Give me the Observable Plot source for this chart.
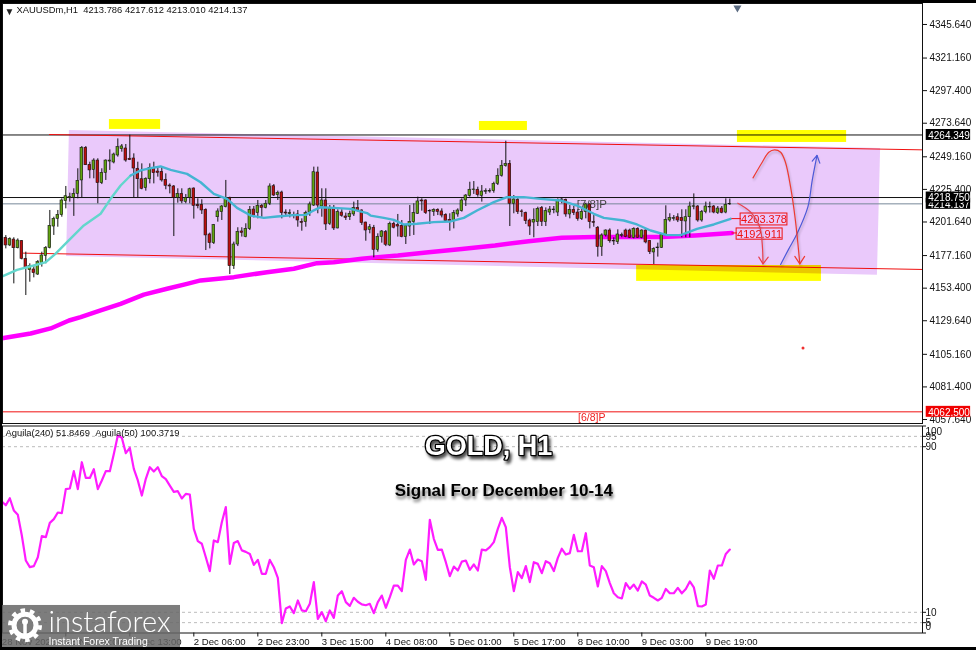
<!DOCTYPE html>
<html>
<head>
<meta charset="utf-8">
<script src="https://cdn.jsdelivr.net/npm/d3@7"></script>
<script src="https://cdn.jsdelivr.net/npm/@observablehq/plot@0.6"></script>
<style>
html,body{margin:0;padding:0;background:#fff;overflow:hidden}
#page{position:relative;width:976px;height:650px;overflow:hidden;background:#fff}
#page svg{position:absolute;left:0;overflow:visible;background:transparent}
.strip{position:absolute;background:#000;z-index:5}
.gold-title{filter:drop-shadow(2px 3px 1.5px rgba(0,0,0,.7))}
.signal-title{filter:drop-shadow(1px 3px 1.5px rgba(0,0,0,.55))}
.soft{filter:drop-shadow(1px 2px 1px rgba(0,0,0,.22))}
</style>
</head>
<body>
<div id="page"></div>
<script>
const opens=[4189.4,4183.8,4188.1,4181.8,4187,4174,4165.8,4166.3,4162.6,4170.9,4176.2,4182,4197.6,4203.2,4205.9,4216.1,4218.3,4218.5,4221.4,4231.2,4255,4242.6,4238.9,4245.7,4229.2,4236.7,4245,4244.3,4249.4,4254,4254.5,4247,4247.2,4239.7,4232.1,4225.6,4232.1,4240.4,4237.7,4237.5,4231.6,4227.5,4226.8,4218.5,4221.4,4215.6,4218.5,4225.3,4213.4,4213.4,4209.8,4191.8,4185.5,4204.4,4208.1,4211.7,4218.5,4168.7,4184.5,4194,4189.9,4195.7,4210,4207.4,4212.7,4211.2,4214.2,4227,4220.5,4222.4,4207.8,4206.6,4206.1,4206.4,4201,4200.8,4207.8,4212.9,4237,4212.2,4216.6,4199.6,4210.7,4196.2,4207.8,4204.9,4204.4,4206.4,4211.2,4209.3,4200.5,4195.2,4196.7,4180.6,4189.9,4193.5,4183.8,4199.6,4198.6,4198.1,4189.9,4197.6,4200.8,4206.9,4216.6,4216.6,4209,4208.3,4209.8,4208.6,4206.1,4202.5,4201.5,4206.4,4208.8,4216.6,4220,4224.1,4224.4,4220,4222.9,4223.1,4223.4,4228.7,4234.6,4241.6,4243.3,4214.2,4217.1,4208.6,4207.4,4202,4200.5,4200.8,4211,4200.8,4207.8,4209.5,4207.8,4217.3,4217.1,4206.4,4209.8,4207.8,4203,4208.1,4213.7,4200.8,4196.7,4182.6,4191.1,4194.7,4187.2,4186.2,4190.8,4194.7,4194.7,4189.4,4195.9,4189.4,4194.7,4187,4178.7,4181.8,4182.1,4191.1,4202,4203.2,4204.4,4203.9,4201.3,4204.4,4212,4212.2,4202,4208.1,4211.5,4212.2,4207.4,4210.7,4207.8,4213.786];
const highs=[4191,4189.4,4189.4,4188.6,4187.4,4178.9,4170.4,4169.2,4172.8,4178.9,4183,4209.3,4204.4,4209.3,4217.8,4226.8,4221.9,4225.1,4239.7,4255.9,4255.9,4244.5,4247,4247,4239.7,4246.2,4253.5,4251.1,4261.5,4257.4,4257.4,4264.2,4250.6,4244.5,4243.3,4233.1,4243.3,4244.5,4240.9,4240.9,4236,4228.7,4227.5,4225.1,4225.1,4220.9,4225.6,4225.8,4217.8,4217.1,4210.5,4192.8,4199.1,4210.5,4212.9,4231.2,4219,4186.2,4196.7,4196.7,4199.6,4212.2,4212.2,4216.6,4213.7,4216.6,4228.7,4228.2,4223.4,4223.4,4209.8,4209.8,4208.1,4209.3,4203.2,4208.8,4215.4,4240.9,4240.9,4225.1,4225.1,4212.9,4212.9,4209.8,4209.8,4207.4,4208.8,4215.4,4216.6,4209.8,4200.8,4199.1,4198.4,4192.3,4194.7,4194.7,4200.8,4200.8,4206.4,4202,4198.4,4212.9,4214.2,4219,4217.8,4217.1,4209.8,4210.5,4210.5,4210.5,4206.9,4206.9,4209.3,4210.5,4217.8,4220.9,4229.9,4230.4,4226.3,4227.5,4225.1,4225.1,4229.9,4239.7,4245.7,4259.8,4245.7,4220.2,4219.5,4209.8,4208.1,4203,4210.5,4211.7,4212.2,4211.2,4212.2,4212.2,4217.8,4218.5,4217.6,4212.9,4212.2,4209.8,4210.5,4214.6,4214.2,4205.6,4197.6,4192.3,4195.2,4195.9,4189.4,4195.2,4192.8,4195.7,4195.7,4196.7,4196.7,4195.2,4195.2,4187.4,4182.1,4185.5,4191.8,4212.7,4206.9,4205.6,4206.9,4209.8,4209.8,4215.4,4221.4,4212.9,4209.3,4215.4,4215.4,4212.9,4212.2,4212.2,4217.8,4217.612];
const lows=[4181.3,4183,4155.8,4181.3,4173.3,4147.3,4157,4160.2,4161.9,4168,4170.4,4181.3,4191.1,4197.1,4204.4,4210.5,4215.4,4205,4217.8,4218.5,4242.1,4232.4,4232.4,4214.2,4228.2,4231.2,4238.5,4243.3,4248.2,4251.8,4244.5,4245.7,4218.5,4218.5,4224.4,4223.4,4228.7,4228.7,4233.6,4230,4224.4,4221.4,4190.3,4214.6,4214.2,4214.2,4214.2,4203,4210.5,4206.4,4180.1,4181.3,4184.5,4200.8,4202,4211.2,4162.6,4166.3,4183,4189.9,4189.4,4194.7,4203.9,4203.2,4204.4,4210.5,4212.9,4219.5,4216.6,4203.2,4205,4203.9,4203.2,4197.1,4194.2,4197.1,4205,4212.2,4206.9,4204.4,4194.7,4198.4,4194.7,4195.9,4204.4,4202,4202,4204.9,4208.1,4198.4,4186.9,4192.3,4174.8,4178.9,4185.5,4183,4183,4195.9,4189.9,4189.4,4184.5,4190.3,4191.1,4206.4,4208.8,4206.4,4199.1,4205,4205.6,4203.9,4200.8,4194.2,4195.9,4204.4,4208.1,4212.2,4219,4221,4219,4215.4,4221,4221.9,4221.9,4227.5,4233.6,4240.9,4197.6,4206.9,4206.4,4204.4,4199.1,4191.1,4189.4,4197.6,4197.6,4197.6,4205.6,4206.9,4204.9,4214.2,4204.4,4203.2,4205.6,4201.5,4202,4203.2,4195.9,4197.1,4175.3,4175.8,4189.9,4185.5,4183.8,4184.5,4189.4,4189.4,4188.9,4188.6,4188.9,4188.6,4185,4177.2,4169.9,4175.3,4181.6,4190.8,4200.8,4201.5,4200.5,4189.4,4189.4,4189.4,4209.8,4200.8,4200.8,4206.9,4207.4,4206.9,4206.4,4206.9,4206.9,4213.01];
const closes=[4183.8,4188.6,4181.8,4187.4,4174,4167.2,4168.7,4163.6,4171.6,4176.5,4182,4198.1,4203.2,4206.1,4216.6,4219.7,4219,4221.4,4230.9,4255,4242.3,4238.5,4245.7,4229.2,4236.7,4245.7,4245.7,4250.1,4255.5,4256,4245.7,4246,4239.9,4232.1,4225.1,4232.4,4240.4,4236.5,4236.7,4231.2,4227.3,4226.8,4218.5,4221.4,4215.9,4218.5,4224.8,4212.7,4212.4,4209.3,4191.1,4185.5,4198.6,4208.6,4212.2,4218.5,4168.7,4184.5,4193.7,4193,4195.9,4209.8,4204.9,4212.7,4211.2,4214.2,4226.8,4220.2,4222.2,4207.4,4207.1,4207.4,4205.6,4202,4200.3,4207.4,4213.7,4237.2,4212.9,4216.6,4199.1,4210.7,4196.2,4208.1,4205.4,4203.9,4206.9,4211.2,4208.8,4200.1,4194.7,4197.1,4180.6,4190.1,4194,4184.3,4199.6,4196.7,4197.6,4189.9,4198.1,4201,4207.4,4215.9,4215.9,4207.4,4208.6,4209.8,4208.3,4205.6,4201.5,4201,4207.4,4209.3,4216.6,4220.2,4224.4,4224.6,4220.5,4223.1,4223.4,4223.6,4228.7,4234.6,4241.9,4243.3,4214.2,4217.3,4208.1,4208.1,4201.5,4197.6,4202.5,4210.5,4201,4208.8,4210,4210,4217.1,4216.8,4206.4,4209.8,4207.4,4203,4208.3,4213.7,4200.8,4200.3,4182.6,4191.1,4194.7,4186.9,4186.7,4191.8,4191.3,4189.9,4189.4,4195.9,4189.4,4194.7,4186,4178.9,4181.1,4182.3,4191.3,4202.5,4203.9,4203.7,4202,4201.5,4204.4,4212.2,4212.4,4202,4208.1,4212.2,4212,4207.8,4210.7,4207.6,4213.4,4214.137];

const shortMaIndex=[-1.3,2.8,7,10,12.4,15.3,19.5,23.7,26.2,28.7,31.2,33.7,36.2,38.7,41.2,45.3,48.7,52,55.3,57.8,61.2,64.5,67.8,72,75,76.6,78.7,82,86.2,90.3,91.2,94.5,97,99.5,102.8,107,111.2,114.5,117.8,122,125.3,129.5,133.7,138.7,142.8,147,149.5,154.5,157.8,161.2,165.3,168.7,172.8,177,181.2];
const shortMaPrice=[4160.7,4166,4169.2,4171.6,4177.7,4186.2,4198.4,4206.9,4217.8,4227.5,4234.8,4238.5,4240.2,4241.4,4238.9,4236,4229.9,4221.4,4217.8,4211.2,4205.6,4203.9,4204.9,4205.9,4206.1,4208.8,4211.7,4211.2,4210.5,4207.4,4205.6,4203.9,4202.5,4199.1,4199.6,4200.8,4201.3,4203.9,4209.3,4215.4,4219,4219,4217.8,4216.6,4212.9,4206.9,4203.9,4202,4199.1,4194.7,4191.3,4191.3,4195.9,4199.1,4203.2];
const longMaIndex=[-1.3,6.2,11.2,15.8,18.7,23.7,28.7,34.5,40.3,45.3,48.7,57,65.3,72,77.8,82,89,93,98,105.7,114,122.3,130.7,139,147.3,155.7,164,172.3,181.5];
const longMaPrice=[4116,4119.6,4123.3,4129.1,4131.5,4136.4,4141.2,4148,4152.2,4155.8,4158.3,4160.7,4164.3,4166.8,4170.9,4171.6,4174.1,4175.3,4176.5,4178.9,4181.3,4183.8,4186.9,4189.4,4189.9,4189.9,4189.9,4191.1,4192.8];

const aguilaValues=[63.5,61.7,65.1,59.2,57.1,47.1,35,31.8,32.3,36.6,46.8,46.3,53.2,55,58.2,57.9,69.5,69.8,78.2,69.5,82.5,74.9,74.9,79.1,69.5,73.7,78.2,78.2,86.5,95.4,94.3,86.9,89.4,79.3,73.7,66.4,74.5,80.1,78,80.1,75.8,74.3,71.2,68.2,68.5,65,67.2,66.9,50.3,44.4,43.1,36.6,29.9,44.7,43.9,53.5,60.8,33.4,43.5,44.4,39.9,39.2,38.2,32.9,35.3,28.6,28.6,35.3,31.8,26.6,4.7,11.8,12.8,9.6,15.7,10.9,10.5,14.1,24.6,6.8,10.1,5.7,10.9,7.3,18.1,20.2,14.9,13.1,17,15.1,13.8,13.4,14.1,9.6,14.9,18.1,12.2,17.3,22.9,22.9,20.2,35.3,40.3,33.1,35.5,34.7,25.7,54.7,45.5,40.2,40.3,34.2,27.5,32.1,30.2,34.5,35,30.5,33.1,30.2,40.3,39.9,41.5,43.9,50.3,55.6,51.1,31.8,20.2,29.4,26.5,32.3,24.6,34.2,33.4,28.9,34.7,33.7,29.9,36.3,40.7,37.9,38.6,47.4,39.5,39.5,48.2,32.6,31.8,22.5,32.3,29.9,24.1,19.2,17.3,16.7,24.1,21.3,23.4,20.5,24.9,23.4,18.1,17,15.7,17,21.3,19.2,19.2,21.8,19.2,21.3,24.9,22.1,13,12.8,13.8,30.2,26.2,32.6,32.6,38.2,40.3];

const priceTicks=[4345.64,4321.16,4297.4,4273.64,4249.16,4225.4,4201.64,4177.16,4153.4,4129.64,4105.16,4081.4,4057.64];
const timeTickIndex=[-1,15,31,47,63,79,95,111,127,143,159,175];
const timeTickLabels=["28 Nov 2025","28 Nov 20:00","1 Dec 13:00","2 Dec 06:00","2 Dec 23:00","3 Dec 15:00","4 Dec 08:00","5 Dec 01:00","5 Dec 17:00","8 Dec 10:00","9 Dec 03:00","9 Dec 19:00"];
const aguilaLevels=[95,90,10,5];
const aguilaTicks=[100,95,90,10,5,0];

const channelTopIndex=[15.9,218.7], channelTopPrice=[4267.6,4254.5];
const channelBottomIndex=[15.2,217.9], channelBottomPrice=[4175.8,4162];
const redTopIndex=[10.9,229.2], redTopPrice=[4264.7,4253.5];
const redBottomIndex=[4.4,229.2], redBottomPrice=[4178.2,4166.3];

const zoneLeft=[25.9,118.4,182.9,157.7], zoneRight=[38.7,130.4,210.2,203.9];
const zoneTop=[4275.6,4274.2,4267.6,4169.2], zoneBottom=[4268.4,4267.6,4258.9,4157.6];

const curveAIndex=[186.8,189.1,190.75,192.2,193.7,194.9,196.2,197.4,198.5];
const curveAPrice=[4233.1,4244.5,4251.8,4253.5,4251.8,4244.5,4226.3,4202,4170.4];
const headAIndex=[197.25,198.5,199.7], headAPrice=[4175.8,4170.4,4175.8];
const curveBIndex=[183,186.2,188.5,189.1,189.3];
const curveBPrice=[4214.6,4208.1,4197.1,4185,4170.4];
const headBIndex=[188.25,189.3,190.6], headBPrice=[4175.3,4170.4,4175.3];
const curveCIndex=[193.7,195.75,197.8,200.5,201.6,202.8];
const curveCPrice=[4169.9,4181.3,4192.3,4211.7,4231.2,4249.4];
const headCIndex=[201.6,202.8,203.5], headCPrice=[4245.3,4249.4,4243.8];

const W=976, MAIN_H=424, SUB_H=226;
const ff='"Liberation Sans",Arial,sans-serif';
const candleIdx=d3.range(opens.length);
const green="#62a412", red="#bb0f0f", channelRed="#f01010";
const pts=(xs,ys)=>xs.map((x,i)=>({x,y:ys[i]}));

function box(price,fill,text){
  return [
    Plot.rect([price],{x1:()=>230.1,x2:()=>241.2,y1:d=>d-4,y2:d=>d+4,fill}),
    Plot.text([price],{x:()=>230.6,y:d=>d,text:()=>text,fill:"#fff",textAnchor:"start",fontSize:10,dy:0.5})
  ];
}
const line=(xs,ys,stroke,strokeWidth,extra={})=>Plot.line(pts(xs,ys),{x:"x",y:"y",stroke,strokeWidth,...extra});

const main=Plot.plot({
  width:W,height:MAIN_H,marginLeft:2,marginRight:54,marginTop:3,marginBottom:1,
  x:{domain:[-0.83,229.17],axis:null},
  y:{domain:[4054,4360.2],axis:null},
  style:{fontFamily:ff,fontSize:"10px",background:"transparent",color:"#111"},
  marks:[
    Plot.area([0,1],{x1:i=>channelTopIndex[i],y1:i=>channelTopPrice[i],x2:i=>channelBottomIndex[i],y2:i=>channelBottomPrice[i],fill:"#eac9fb"}),
    Plot.ruleY([4264.349,4218.75],{stroke:"#111",strokeWidth:1}),
    Plot.ruleY([4214.137],{stroke:"#778899",strokeWidth:1}),
    Plot.ruleY([4062.5],{stroke:"#f01010",strokeWidth:1}),
    line(redTopIndex,redTopPrice,channelRed,1),
    line(redBottomIndex,redBottomPrice,channelRed,1),
    Plot.rect(d3.range(4),{x1:i=>zoneLeft[i],x2:i=>zoneRight[i],y1:i=>zoneBottom[i],y2:i=>zoneTop[i],fill:"#ffff00",mixBlendMode:"multiply"}),
    Plot.text(["[7/8]P"],{x:()=>146.5,y:()=>4214,fill:"#444",fontSize:11.5,textAnchor:"middle"}),
    Plot.text(["[6/8]P"],{x:()=>146.5,y:()=>4058,fill:"#ee2020",fontSize:10.5,textAnchor:"middle"}),
    line(longMaIndex,longMaPrice,"#ff00ff",4.5),
    Plot.ruleX(candleIdx,{x:i=>i,y1:i=>lows[i],y2:i=>highs[i],stroke:"#111",strokeWidth:1}),
    Plot.rect(candleIdx,{x1:i=>i-0.33,x2:i=>i+0.33,y1:i=>Math.min(opens[i],closes[i]),y2:i=>Math.max(opens[i],closes[i]),
      fill:i=>closes[i]>=opens[i]?green:red,stroke:"#111",strokeWidth:0.6}),
    line(shortMaIndex.slice(0,11),shortMaPrice.slice(0,11),"#63d6cc",2.4),
    line(shortMaIndex.slice(10),shortMaPrice.slice(10),"#45b4d2",2.4),
    line([181.5,183.7],[4203.378,4203.378],"#ee1010",1),
    line([181.5,182.7],[4192.911,4192.911],"#ee1010",1),
    Plot.rect([0],{x1:()=>183.7,x2:()=>195.4,y1:()=>4198.4,y2:()=>4207.1,fill:"none",stroke:"#ee1010"}),
    Plot.rect([0],{x1:()=>182.7,x2:()=>194.2,y1:()=>4188,y2:()=>4196.2,fill:"none",stroke:"#ee1010"}),
    Plot.text(["4203.378"],{x:()=>189.55,y:()=>4202.8,fill:"#ee1010",fontSize:11,dy:0.5}),
    Plot.text(["4192.911"],{x:()=>188.45,y:()=>4192.1,fill:"#ee1010",fontSize:11,dy:0.5}),
    line(curveBIndex,curveBPrice,"#e8404c",1.2,{curve:"catmull-rom",className:"soft"}),
    line(headBIndex,headBPrice,"#e8404c",1.2),
    line(curveCIndex,curveCPrice,"#4c58d8",1.2,{curve:"catmull-rom",className:"soft"}),
    line(headCIndex,headCPrice,"#4c58d8",1.2),
    line(curveAIndex,curveAPrice,"#ee3a30",1.2,{curve:"catmull-rom",className:"soft"}),
    line(headAIndex,headAPrice,"#ee3a30",1.2),
    Plot.dot([0],{x:()=>182.9,y:()=>4357,symbol:"triangle",r:3,fill:"#5a6a80",rotate:180}),
    Plot.dot([0],{x:()=>199.3,y:()=>4109,r:1.5,fill:"#f03030"}),
    Plot.frame({stroke:"#111",strokeWidth:1}),
    Plot.axisY({anchor:"right",ticks:priceTicks,tickFormat:d3.format(".3f"),tickSize:4,tickPadding:3,label:null,fontSize:10,stroke:"#111",dy:1}),
    ...box(4264.349,"#000","4264.349"),
    ...box(4214.137,"#000","4214.137"),
    ...box(4218.75,"#000","4218.750"),
    ...box(4062.5,"#f00000","4062.500"),
    Plot.text(["\u25BC"],{frameAnchor:"top-left",dx:2,dy:4,fontSize:10,fill:"#222",lineAnchor:"top"}),
    Plot.text(["XAUUSDm,H1\u00A0\u00A04213.786 4217.612 4213.010 4214.137"],{frameAnchor:"top-left",dx:14,dy:2.5,fontSize:9.4,fill:"#111",lineAnchor:"top"})
  ]
});
main.style.top="0px";

const sub=Plot.plot({
  width:W,height:SUB_H,marginLeft:2,marginRight:54,marginTop:1.5,marginBottom:17.5,
  x:{domain:[-0.83,229.17],axis:null},
  y:{domain:[0,100],axis:null},
  style:{fontFamily:ff,fontSize:"10px",background:"transparent",color:"#111"},
  marks:[
    Plot.ruleY(aguilaLevels,{stroke:"#bcbcbc",strokeDasharray:"3,3"}),
    Plot.line(aguilaValues,{x:(d,i)=>i-1,y:d=>d,stroke:"#ff1cff",strokeWidth:2.2}),
    Plot.frame({stroke:"#111",strokeWidth:1}),
    Plot.axisY({anchor:"right",ticks:aguilaTicks,tickFormat:()=>"",tickSize:3,label:null}),
    Plot.text(aguilaTicks.slice(1,5),{x:()=>229.9,y:d=>d,text:d=>String(d),textAnchor:"start",fontSize:10,fill:"#111"}),
    Plot.text([100],{x:()=>229.9,y:d=>d,text:d=>String(d),textAnchor:"start",fontSize:10,fill:"#111",dy:6}),
    Plot.text([0],{x:()=>229.9,y:d=>d,text:d=>String(d),textAnchor:"start",fontSize:10,fill:"#111",dy:-6}),
    Plot.axisX({anchor:"bottom",ticks:timeTickIndex,tickFormat:d=>timeTickLabels[timeTickIndex.indexOf(d)],textAnchor:"start",tickSize:4,tickPadding:1,label:null,fontSize:9.6,fill:"#111",stroke:"#111"}),
    Plot.text(["Aguila(240) 51.8469\u00A0\u00A0Aguila(50) 100.3719"],{frameAnchor:"top-left",dx:3,dy:3,fontSize:9.4,fill:"#111",lineAnchor:"top"}),
    Plot.text(["GOLD, H1"],{x:()=>120.7,y:()=>90.1,fontSize:27,fontWeight:"bold",fill:"#fff",stroke:"#000",strokeWidth:2.5,paintOrder:"stroke",className:"gold-title"}),
    Plot.text(["Signal For December 10-14"],{x:()=>124.5,y:()=>68.9,fontSize:17,fontWeight:"bold",fill:"#000",className:"signal-title"}),
    Plot.rect([0],{x1:()=>-1.33,x2:()=>43.67,y1:()=>-8.4,y2:()=>13.3,fill:"#666",fillOpacity:0.85}),
    Plot.dot([0],{x:()=>4.8,y:()=>3.7,r:11,fill:"none",stroke:"#fff",strokeWidth:5}),
    Plot.dot([0],{x:()=>4.8,y:()=>3.7,r:15,fill:"none",stroke:"#fff",strokeWidth:4,strokeDasharray:"4.5 4.9"}),
    Plot.dot([0],{x:()=>4.8,y:()=>5.4,r:3,fill:"#fff"}),
    Plot.ruleX([4.8],{y1:()=>-3,y2:()=>5,stroke:"#fff",strokeWidth:3.5}),
    Plot.text(["instaforex"],{x:()=>10.67,y:()=>5.1,textAnchor:"start",fontSize:29,fontFamily:"Lato,sans-serif",fontWeight:300,fill:"#fff"}),
    Plot.text(["Instant Forex Trading"],{x:()=>10.67,y:()=>-4,textAnchor:"start",fontSize:10.5,fill:"#fff"})
  ]
});
sub.style.top=MAIN_H+"px";

const page=document.getElementById("page");
page.append(main,sub);
["left:0;top:0;width:2px;height:650px","left:0;top:0;width:976px;height:3px","left:0;top:647px;width:976px;height:3px"]
 .forEach(css=>{const s=document.createElement("div");s.className="strip";s.style.cssText=css;page.append(s);});
</script>
</body>
</html>
